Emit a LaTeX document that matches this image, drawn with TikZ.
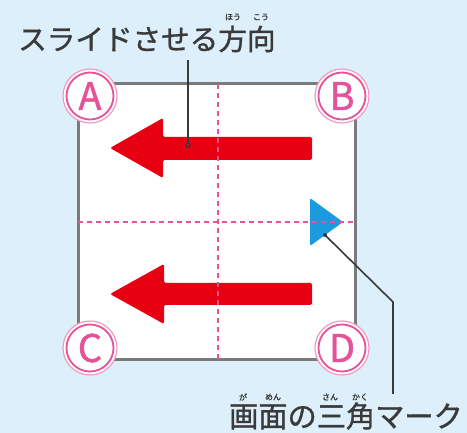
\documentclass[tikz,border=0pt]{standalone}
\usepackage{fontspec}
\setmainfont{Noto Sans CJK JP}
\newfontfamily\jpmed[FakeBold=1.2]{Noto Sans CJK JP}
\definecolor{bg}{HTML}{DDEFFB}
\definecolor{frame}{HTML}{7A7A7A}
\definecolor{pinkc}{HTML}{E6529A}
\definecolor{pinkl}{HTML}{F29AC2}
\definecolor{redc}{HTML}{E60012}
\definecolor{bluec}{HTML}{1A9BE0}
\definecolor{txt}{HTML}{3A3A3A}
\tikzset{
  framebox/.style={draw=frame, line width=3pt, fill=white},
  redarrow/.style={fill=redc, rounded corners=1.5pt},
  guide/.style={draw=pinkc, line width=1.3pt, dash pattern=on 5pt off 4pt},
  leader/.style={draw=txt, line width=1.6pt},
  corner/.style={circle, draw=pinkl, line width=1.2pt, fill=white, minimum size=54pt, inner sep=0pt, text=pinkc, font=\jpmed\fontsize{38}{38}\selectfont},
  ring/.style={draw=pinkc, line width=1.8pt},
  maintext/.style={text=txt, inner sep=0pt, anchor=west},
  rubytext/.style={text=txt, inner sep=0pt, font=\jpmed\fontsize{8}{8}\selectfont}
}
\begin{document}
\begin{tikzpicture}[x=1pt,y=-1pt]
\fill[bg] (0,0) rectangle (467,433);
\useasboundingbox (0,0) rectangle (467,433);
% square
\draw[framebox] (78,84) rectangle (355,360);
% red arrows
\fill[redarrow] (110,148) -- (163,118) -- (163,137) -- (312,137) -- (312,160) -- (163,160) -- (163,178) -- cycle;
\fill[redarrow] (110,294) -- (164,264) -- (164,283) -- (312,283) -- (312,305) -- (164,305) -- (164,324) -- cycle;
% blue triangle
\node[inner sep=0pt] (tri) at (321,222) {};
\fill[bluec, rounded corners=2pt] (310,198) -- (343,222) -- (310,246) -- cycle;
% guide lines
\draw[guide] (218,84) -- (218,360);
\draw[guide] (78,222) -- (355,222);
% corner markers
\node[corner] (A) at (90,96) {A};
\node[corner] (B) at (342,96) {B};
\node[corner] (C) at (90,348) {C};
\node[corner] (D) at (342,348) {D};
\foreach \n in {A,B,C,D} {\draw[ring] (\n.center) circle (23.5pt);}
% texts
\node[maintext, font=\jpmed\fontsize{28.6}{28.6}\selectfont] (title) at (18,39) {スライドさせる方向};
\node[rubytext] (r1) at (233,17) {ほう};
\node[rubytext] (r2) at (261,17) {こう};
\node[maintext, font=\jpmed\fontsize{29.2}{29.2}\selectfont] (label) at (229,416) {画面の三角マーク};
\node[rubytext] (r3) at (243,397) {が};
\node[rubytext] (r4) at (273,397) {めん};
\node[rubytext] (r5) at (330,397) {さん};
\node[rubytext] (r6) at (360,397) {かく};
% leaders
\coordinate (t1) at (188,60);
\coordinate (t2) at (188,145);
\draw[leader] (t1) -- (t2);
\draw[txt, line width=1.2pt, fill=redc] (t2) circle (2.2pt);
\coordinate (l1) at (325,235);
\coordinate (l2) at (393,302);
\coordinate (l3) at (393,394);
\draw[leader] (l1) -- (l2) -- (l3);
\fill[txt] (l1) circle (2pt);
\end{tikzpicture}
\end{document}
